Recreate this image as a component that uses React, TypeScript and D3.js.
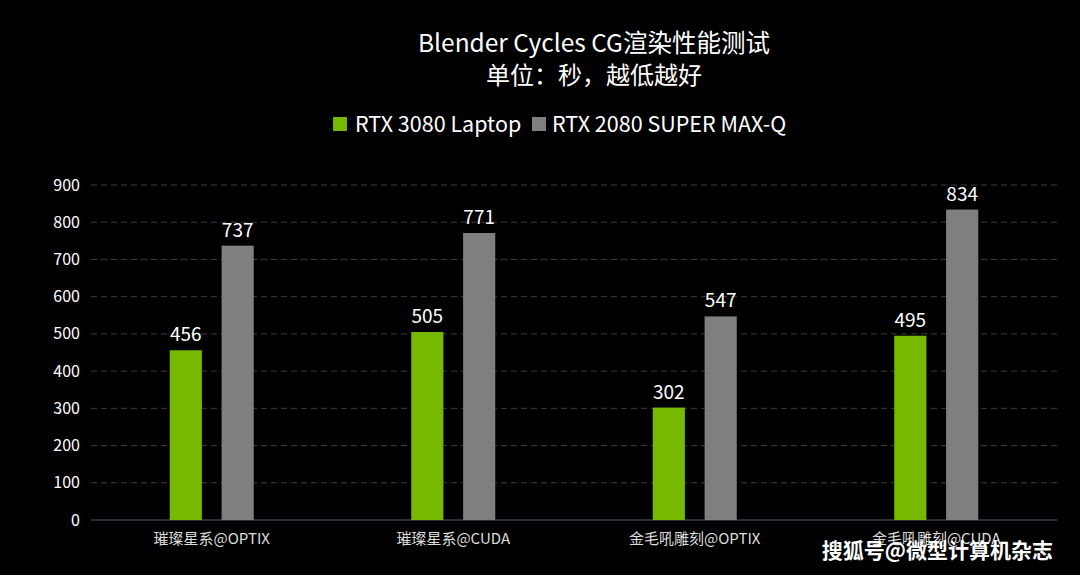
import { scaleBand, scaleLinear } from "d3";

const categories = ["璀璨星系@OPTIX", "璀璨星系@CUDA", "金毛吼雕刻@OPTIX", "金毛吼雕刻@CUDA"];
const seriesNames = ["RTX 3080 Laptop", "RTX 2080 SUPER MAX-Q"];
const rtx3080 = [456, 505, 302, 495];
const rtx2080 = [737, 771, 547, 834];
const yTicks = [0, 100, 200, 300, 400, 500, 600, 700, 800, 900];
const colors = ["#76b900", "#7f7f7f"];

const W = 1080;
const H = 575;
const margin = { left: 91, right: 23, top: 185, bottom: 55 };
const font = "'Noto Sans CJK SC', 'Noto Sans', sans-serif";

export default function App() {
  const x = scaleBand<string>()
    .domain(categories)
    .range([margin.left, W - margin.right]);
  const y = scaleLinear().domain([0, 900]).range([H - margin.bottom, margin.top]);
  const inner = scaleBand<number>().domain([0, 1]).range([0, 84]).paddingInner(0.38);
  const series = [rtx3080, rtx2080];

  return (
    <svg
      width={W}
      height={H}
      style={{ position: "absolute", left: 0, top: 0, background: "#000" }}
      fontFamily={font}
    >
      <rect width={W} height={H} fill="#000" />
      <text x={594} y={52} fill="#fff" fontSize={24.5} textAnchor="middle">
        Blender Cycles CG渲染性能测试
      </text>
      <text x={594} y={84} fill="#fff" fontSize={24} textAnchor="middle">
        单位：秒，越低越好
      </text>

      {/* legend */}
      <g transform="translate(333,124)">
        <rect x={0} y={-7} width={14} height={14} fill={colors[0]} />
        <text x={22} y={8} fill="#fff" fontSize={21.5}>{seriesNames[0]}</text>
        <rect x={199} y={-7} width={14} height={14} fill={colors[1]} />
        <text x={219} y={8} fill="#fff" fontSize={21.5}>{seriesNames[1]}</text>
      </g>

      {/* grid */}
      {yTicks.map((t) => (
        <g key={t}>
          {t > 0 && (
            <line
              x1={margin.left}
              x2={W - margin.right}
              y1={y(t)}
              y2={y(t)}
              stroke="#3c3c3c"
              strokeDasharray="6,4"
            />
          )}
          <text
            x={80}
            y={y(t)}
            dy="0.35em"
            fill="#fff"
            fontSize={16}
            textAnchor="end"
          >
            {t}
          </text>
        </g>
      ))}
      <line
        x1={margin.left}
        x2={W - margin.right}
        y1={y(0)}
        y2={y(0)}
        stroke="#3a3f4a"
        strokeWidth={1.5}
      />

      {/* bars */}
      {categories.map((c, ci) => {
        const cx = (x(c) ?? 0) + x.bandwidth() / 2 - 42;
        return (
          <g key={c}>
            {series.map((s, si) => {
              const bx = cx + (inner(si) ?? 0);
              const v = s[ci];
              return (
                <g key={si}>
                  <rect
                    x={bx}
                    y={y(v)}
                    width={inner.bandwidth()}
                    height={y(0) - y(v)}
                    fill={colors[si]}
                  />
                  <text
                    x={bx + inner.bandwidth() / 2}
                    y={y(v) - 9}
                    fill="#fff"
                    fontSize={19}
                    textAnchor="middle"
                  >
                    {v}
                  </text>
                </g>
              );
            })}
            <text
              x={(x(c) ?? 0) + x.bandwidth() / 2}
              y={544}
              fill="#ddd"
              fontSize={15}
              textAnchor="middle"
            >
              {c}
            </text>
          </g>
        );
      })}

      <text x={1053} y={558} fill="#fff" fontSize={21} fontWeight="bold" textAnchor="end">
        搜狐号@微型计算机杂志
      </text>
    </svg>
  );
}
